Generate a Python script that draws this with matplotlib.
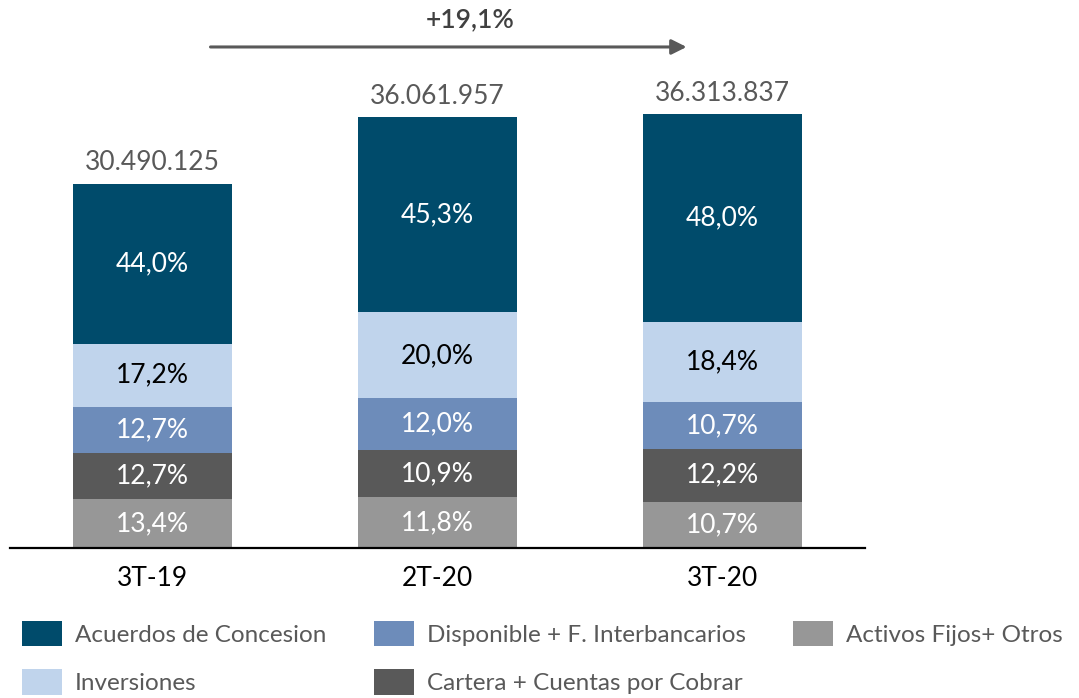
import matplotlib
matplotlib.use("Agg")
import matplotlib.pyplot as plt
from matplotlib.patches import Patch
import numpy as np

plt.rcParams['font.family'] = ['Lato', 'DejaVu Sans']

periods = ["3T-19", "2T-20", "3T-20"]
totals = [30490125, 36061957, 36313837]
total_labels = ["30.490.125", "36.061.957", "36.313.837"]

# Composition shares (%) from bottom to top of each bar
series = ["Activos Fijos+ Otros", "Cartera + Cuentas por Cobrar",
          "Disponible + F. Interbancarios", "Inversiones", "Acuerdos de Concesion"]
activos = [13.4, 11.8, 10.7]
cartera = [12.7, 10.9, 12.2]
disponible = [12.7, 12.0, 10.7]
inversiones = [17.2, 20.0, 18.4]
acuerdos = [44.0, 45.3, 48.0]
growth_label = "+19,1%"

colors = ["#979797", "#595959", "#6d8cba", "#c0d4ec", "#004b6b"]
text_colors = ["white", "white", "white", "black", "white"]
shares = [activos, cartera, disponible, inversiones, acuerdos]

FS = 19
LEG_FS = 17.5

fig = plt.figure(figsize=(10.79, 6.98), dpi=100)
ax = fig.add_axes([10 / 1079, 150 / 698, 855 / 1079, 548 / 698])

x = np.arange(len(periods))
width = 0.555
bottom = np.zeros(len(periods))
for name, vals, col, tcol in zip(series, shares, colors, text_colors):
    heights = np.array(totals) * np.array(vals) / 100.0
    ax.bar(x, heights, width, bottom=bottom, color=col, label=name)
    for xi, b, h, v in zip(x, bottom, heights, vals):
        ax.text(xi, b + h / 2, f"{v:.1f}%".replace(".", ","), ha="center",
                va="center", color=tcol, fontsize=FS)
    bottom += heights

for xi, t, lab in zip(x, totals, total_labels):
    ax.annotate(lab, (xi, t), xytext=(0, 6), textcoords="offset points",
                ha="center", va="bottom", color="#595959", fontsize=FS)

ax.set_xlim(-0.5, 2.5)
ax.set_ylim(0, 45.85e6)
ax.set_xticks(x)
ax.set_xticklabels(periods, fontsize=FS, color="black")
ax.tick_params(axis="x", length=0, pad=13)
ax.set_yticks([])
for s in ["left", "right", "top"]:
    ax.spines[s].set_visible(False)
ax.spines["bottom"].set_linewidth(1.6)
ax.spines["bottom"].set_color("black")

# Growth arrow between the first and last period
ax.annotate("", xy=(1.874, 41.92e6), xytext=(0.2035, 41.92e6),
            arrowprops=dict(arrowstyle="-|>,head_length=0.9,head_width=0.45",
                            color="#595959", lw=2.2, shrinkA=0, shrinkB=0))
ax.text(1.116, 44.18e6, growth_label, ha="center", va="center",
        color="#404040", fontsize=FS, fontweight="semibold")

order = ["Acuerdos de Concesion", "Inversiones", "Disponible + F. Interbancarios",
         "Cartera + Cuentas por Cobrar", "Activos Fijos+ Otros"]
leg_handles = [Patch(facecolor=colors[series.index(n)]) for n in order]
fig.legend(leg_handles, order, loc="upper left", bbox_to_anchor=(22 / 1079, 1 - 621 / 698),
           ncol=3, frameon=False, handlelength=1.65, handleheight=1.23,
           handletextpad=0.53, columnspacing=1.95, labelspacing=0.95,
           borderaxespad=0, borderpad=0, labelcolor="#595959",
           prop={"size": LEG_FS})

fig.savefig("out.png", dpi=100)
